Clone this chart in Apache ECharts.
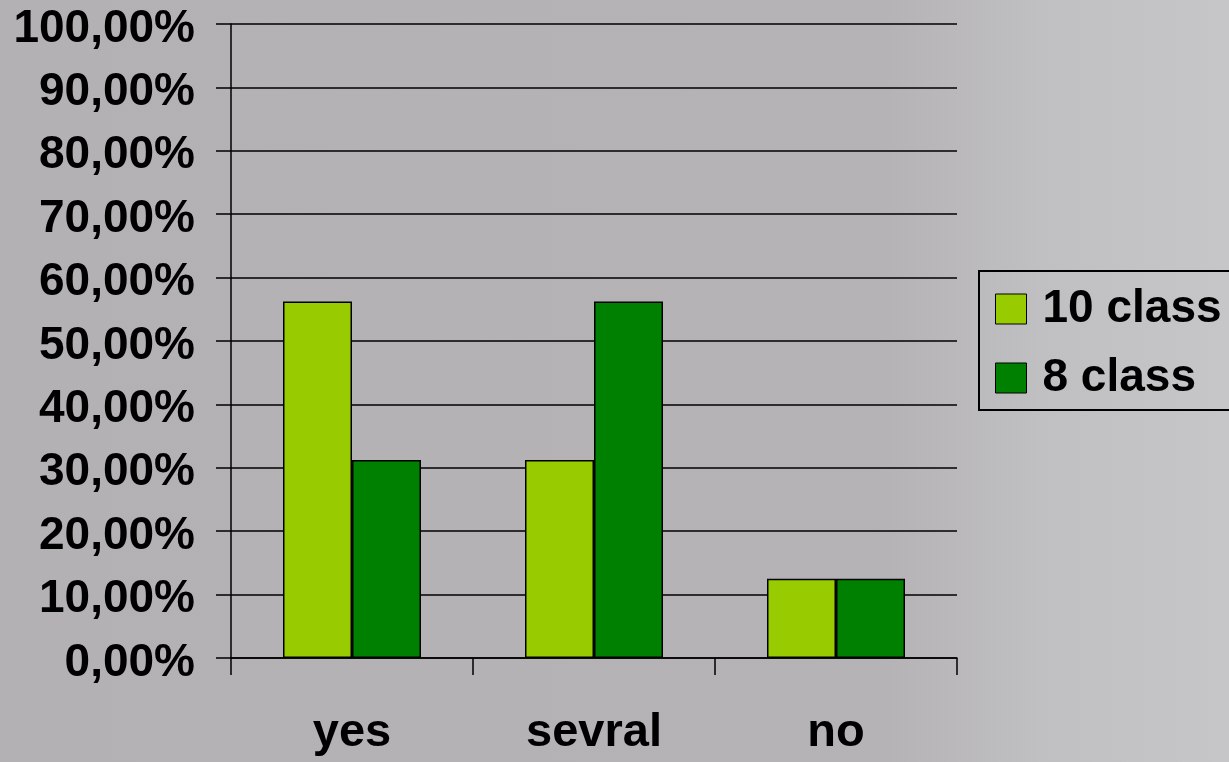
<!DOCTYPE html>
<html>
<head>
<meta charset="utf-8">
<script src="https://cdn.jsdelivr.net/npm/echarts@6/dist/echarts.min.js"></script>
<style>
html,body{margin:0;padding:0;}
#c{width:1229px;height:762px;}
</style>
</head>
<body>
<div id="c"></div>
<script>
const categories = ['yes', 'sevral', 'no'];
const class10 = [0.5625, 0.3125, 0.125];
const class8 = [0.3125, 0.5625, 0.125];
const seriesNames = ['10 class', '8 class'];
const yTicks = [0, 0.1, 0.2, 0.3, 0.4, 0.5, 0.6, 0.7, 0.8, 0.9, 1.0];

const FONT = 'Liberation Sans, Arial, sans-serif';
const chart = echarts.init(document.getElementById('c'));
chart.setOption({
  animation: false,
  backgroundColor: {
    type: 'linear', x: 0, y: 0, x2: 1, y2: 0,
    colorStops: [
      {offset: 0, color: '#b3b1b4'},
      {offset: 0.72, color: '#b5b3b6'},
      {offset: 0.85, color: '#c0bfc1'},
      {offset: 1, color: '#c6c6c8'}
    ]
  },
  grid: {left: 231, right: 272, top: 24, bottom: 104, containLabel: false},
  legend: {
    orient: 'vertical',
    left: 979, top: 271,
    padding: [15, 60, 9, 16],
    borderColor: '#000', borderWidth: 2,
    itemWidth: 31, itemHeight: 30, itemGap: 23,
    icon: 'rect',
    itemStyle: {borderColor: '#000', borderWidth: 1},
    textStyle: {fontFamily: FONT, fontWeight: 'bold', fontSize: 46, color: '#000', padding: [0, 0, 0, 11]},
    data: seriesNames
  },
  xAxis: {
    type: 'category',
    data: categories,
    axisLine: {lineStyle: {color: '#000', width: 1.5}},
    axisTick: {show: true, length: 17, lineStyle: {color: '#000', width: 1.5}},
    axisLabel: {fontFamily: FONT, fontWeight: 'bold', fontSize: 47, color: '#000', margin: 52}
  },
  yAxis: {
    type: 'value',
    min: 0, max: 1, interval: 0.1,
    axisLine: {show: true, lineStyle: {color: '#000', width: 1.5}},
    axisTick: {show: true, length: 15, lineStyle: {color: '#000', width: 1.5}},
    splitLine: {show: true, lineStyle: {color: '#000', width: 1.5}},
    axisLabel: {
      fontFamily: FONT, fontWeight: 'bold', fontSize: 46, color: '#000', margin: 36,
      formatter: v => '{v|' + (v * 100).toFixed(2).replace('.', ',') + '%}',
      rich: {v: {fontFamily: FONT, fontWeight: 'bold', fontSize: 46, color: '#000', padding: [10, 0, 0, 0]}}
    }
  },
  series: [
    {name: seriesNames[0], type: 'bar', data: class10, barWidth: 69, barGap: '0%',
     itemStyle: {color: '#99cc00', borderColor: '#000', borderWidth: 1.5}},
    {name: seriesNames[1], type: 'bar', data: class8, barWidth: 69, barGap: '0%',
     itemStyle: {color: '#008000', borderColor: '#000', borderWidth: 1.5}}
  ]
});
</script>
</body>
</html>
